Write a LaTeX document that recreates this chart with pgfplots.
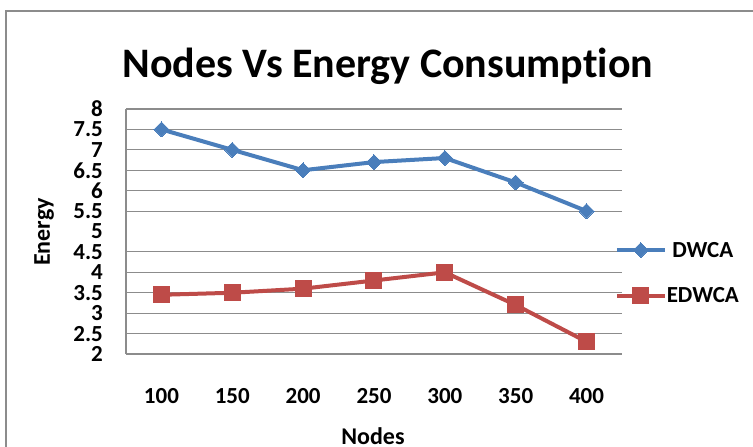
\documentclass[border=0pt]{standalone}
\usepackage{pgfplots}
\pgfplotsset{compat=1.18}
\usepackage{fontspec}
\setmainfont{Carlito}[Ligatures=NoCommon]
\definecolor{sblue}{HTML}{4A7EBB}
\definecolor{sred}{HTML}{BE4B48}
\definecolor{gridgray}{HTML}{8C8C8C}
\begin{document}
\begin{tikzpicture}[x=1pt,y=1pt]
\useasboundingbox (0,0) rectangle (753,447);
\draw[gridgray, line width=2pt] (6,-10) -- (6,436) -- (760,436);
\node[anchor=base, inner sep=0pt, font=\fontsize{42}{50}\selectfont\bfseries] at (388,369) {Nodes Vs Energy Consumption};
\begin{axis}[
  at={(126pt,93pt)}, anchor=south west,
  scale only axis, width=496pt, height=245pt,
  xmin=-0.5, xmax=6.5, ymin=2, ymax=8,
  xtick={0,...,6}, xticklabels={100,150,200,250,300,350,400},
  ytick={2,2.5,3,3.5,4,4.5,5.5,6,6.5,7,7.5,8},
  extra y ticks={5}, extra y tick style={grid=none},
  ymajorgrids, grid style={gridgray, line width=1.1pt},
  axis x line*=bottom, axis y line*=left,
  axis line style={gridgray, line width=1.1pt, -},
  major tick length=0pt,
  /pgf/number format/assume math mode=true,
  tick label style={font=\fontsize{23}{26}\selectfont\bfseries},
  xticklabel style={anchor=center, inner sep=0pt, yshift=-42pt},
  yticklabel style={anchor=east, inner sep=0pt, xshift=-23pt},
  xlabel={Nodes}, ylabel={Energy},
  label style={font=\fontsize{24}{28}\selectfont\bfseries},
  xlabel style={at={(axis description cs:0.498,-0.371)}, anchor=base, inner sep=0pt},
  ylabel style={at={(axis description cs:-0.165,0.498)}, anchor=center, inner sep=0pt},
  legend style={draw=none, fill=none, inner sep=0pt,
    at={(axis description cs:0.985,0.3306)}, anchor=west,
    font=\fontsize{23}{26}\selectfont\bfseries, row sep=29pt, column sep=0pt,
    nodes={inner sep=0pt}},
  legend image code/.code={\draw[mark repeat=2,mark phase=2] plot coordinates {(0pt,0pt)(24pt,0pt)(48pt,0pt)};},
  clip=false,
]
\addplot[sblue, line width=4pt, mark=square*, mark size=5.3pt, mark options={rotate=45, line width=0pt}]
  coordinates {(0,7.5) (1,7.0) (2,6.5) (3,6.7) (4,6.8) (5,6.2) (6,5.5)};
\addplot[sred, line width=4pt, mark=square*, mark size=8pt, mark options={line width=0pt}]
  coordinates {(0,3.45) (1,3.5) (2,3.6) (3,3.8) (4,4.0) (5,3.2) (6,2.3)};
\legend{DWCA, EDWCA}
\end{axis}
\end{tikzpicture}
\end{document}
